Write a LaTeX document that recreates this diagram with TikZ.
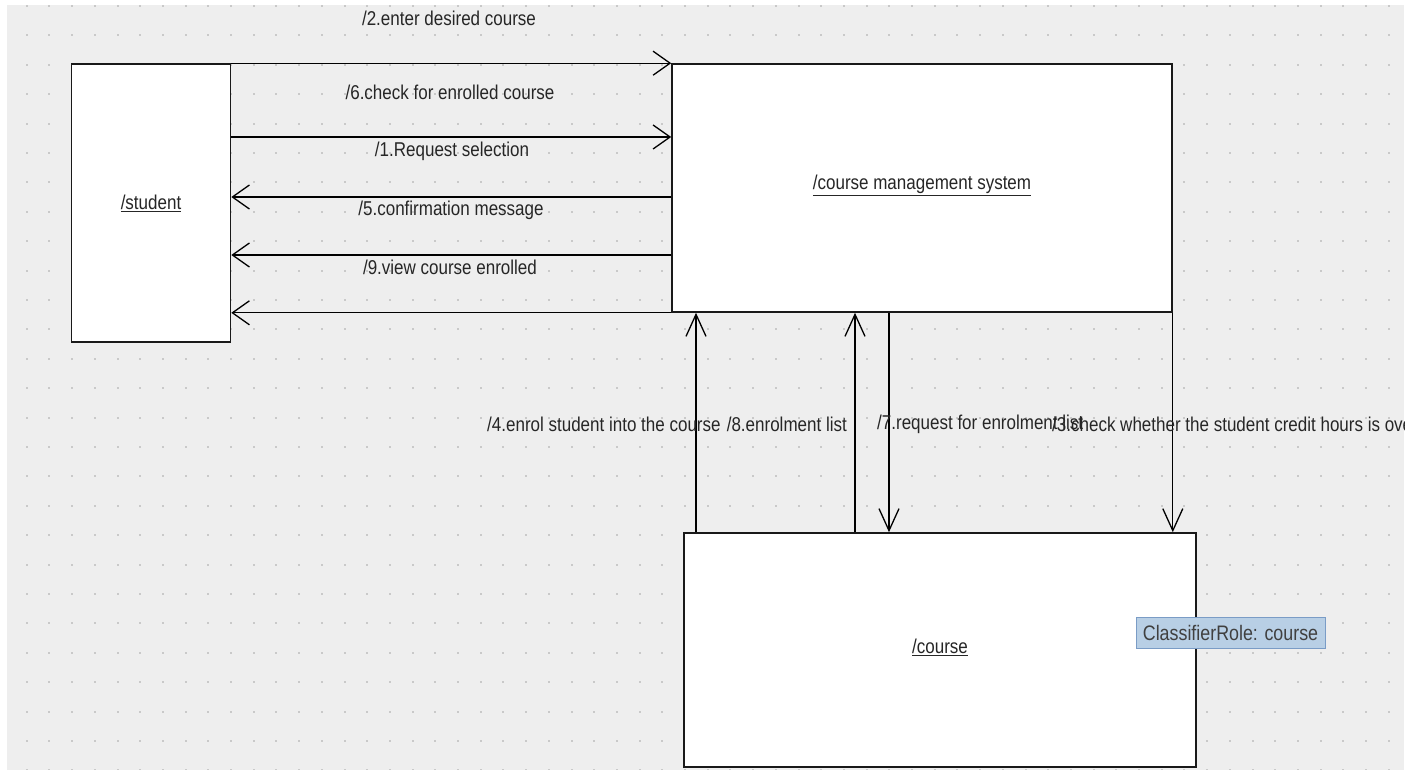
\documentclass[tikz,border=0pt]{standalone}
\usepackage{fontspec}
\setmainfont{Liberation Sans}[FakeStretch=0.85]
\usepackage{xcolor}
\usepackage{tikz}
\usetikzlibrary{arrows.meta,positioning}

\definecolor{canvasgray}{HTML}{EEEEEE}
\definecolor{griddot}{HTML}{C9C9C9}
\definecolor{tipfill}{HTML}{B8CFE5}
\definecolor{tipdraw}{HTML}{7A9CC6}

\begin{document}
\begin{tikzpicture}[
        x=1pt, y=-1pt,
        role/.style={draw=black!90, line width=1.6pt, fill=white, inner sep=0pt},
        msg/.style={line width=1.3pt, -{Straight Barb[length=17pt, width=24pt, line width=1.3pt]}},
        vmsg/.style={line width=1.3pt, -{Straight Barb[length=22pt, width=20pt, line width=1.3pt]}},
        lbl/.style={font=\fontsize{20}{24}\selectfont, text=black!85, inner sep=0pt}
    ]
                \useasboundingbox (0,0) rectangle (1417,770);
                \fill[canvasgray] (7,5) rectangle (1404,770);

                \begin{scope}
                    \clip (7,5) rectangle (1404,770);
                    \foreach \i in {0,...,60}
                        \foreach \j in {0,...,26}
                            \fill[griddot] (25.7+22.7*\i,5+29.4*\j) rectangle ++(2,2);
                \end{scope}

                \node[
                    role,
                    minimum width=159pt,
                    minimum height=278pt
                ] (student) at (151,203) {};
                \node[lbl] at (student) {\underline{/student}};

                \node[
                    role,
                    minimum width=500pt,
                    minimum height=248pt
                ] (cms) at (922,188) {};
                \node[lbl] at ([yshift=3pt]cms.center) {\underline{/course management system}};

                \node[
                    role,
                    minimum width=512pt,
                    minimum height=234pt
                ] (course) at (940,650) {};
                \node[lbl] at ([yshift=3pt]course.center) {\underline{/course}};

                \coordinate (r2) at (0,137);
                \coordinate (r3) at (0,197);
                \coordinate (r4) at (0,255);
                \coordinate (c1) at (696,0);
                \coordinate (c2) at (855,0);
                \coordinate (c3) at (889,0);

                \draw[msg] (student.north east) -- (cms.north west);
                \draw[msg] (student.east |- r2) -- (cms.west |- r2);
                \draw[msg] (cms.west |- r3) -- (student.east |- r3);
                \draw[msg] (cms.west |- r4) -- (student.east |- r4);
                \draw[msg] (cms.south west) -- (student.east |- cms.south west);

                \draw[vmsg] (course.north -| c1) -- (cms.south -| c1);
                \draw[vmsg] (course.north -| c2) -- (cms.south -| c2);
                \draw[vmsg] (cms.south -| c3) -- (course.north -| c3);
                \draw[vmsg] (cms.south east) -- (course.north -| cms.south east);

                \node[lbl] (m2) at (449,18) {/2.enter desired course};
                \node[lbl] (m6) at (450,92) {/6.check for enrolled course};
                \node[lbl] (m1) at (452,151) {/1.Request selection};
                \node[lbl] (m5) at (451,210) {/5.confirmation message};
                \node[lbl] (m9) at (450,267) {/9.view course enrolled};

                \node[lbl, anchor=west] (m4) at (487,424) {/4.enrol student into the course};
                \node[lbl, anchor=east] (m8) at (847,424) {/8.enrolment list};
                \node[lbl, anchor=west] (m7) at (877,424) {/7.request for enrolment list};
                \begin{scope}
                    \clip (7,5) rectangle (1404,770);
                    \node[lbl, anchor=west] (m3) at (1052,424) {/3.check whether the student credit hours is over};
                \end{scope}

                \node[
                    draw=tipdraw,
                    fill=tipfill,
                    line width=1pt,
                    minimum width=189pt,
                    minimum height=31pt,
                    inner sep=0pt,
                    font=\fontsize{21}{24}\selectfont,
                    text=black!75
                ] (tip) at (1230.5,632.5) {ClassifierRole: course};
\end{tikzpicture}
\end{document}
